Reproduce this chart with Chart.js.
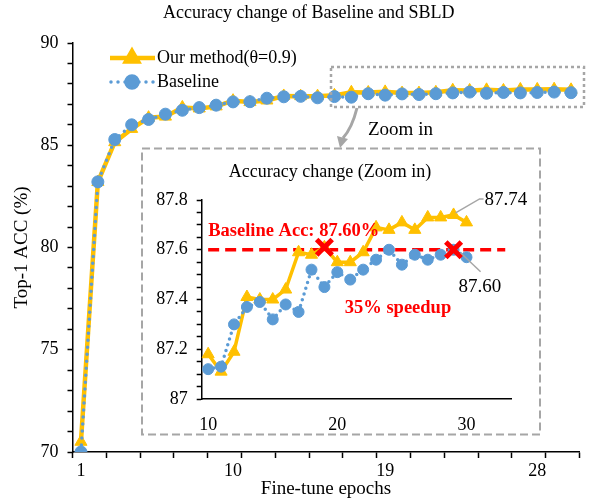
<!DOCTYPE html>
<html>
<head>
<meta charset="utf-8">
<script src="https://cdn.jsdelivr.net/npm/chart.js@4/dist/chart.umd.min.js"></script>
<style>
  body { margin: 0; background: #fff; }
  #wrap { position: relative; width: 592px; height: 500px; }
  #main { position: absolute; left: 0; top: 0; }
  #zoom { position: absolute; left: 142px; top: 148px; }
</style>
</head>
<body>
<div id="wrap">
  <canvas id="main" width="592" height="500"></canvas>
  <canvas id="zoom" width="398" height="286"></canvas>
</div>
<script>
const epochs = ['1','2','3','4','5','6','7','8','9','10','11','12','13','14','15',
                '16','17','18','19','20','21','22','23','24','25','26','27','28','29','30'];
const ours = [70.5, 83.2, 85.15, 85.8, 86.35, 86.4, 86.85, 86.8, 86.9,
              87.18, 87.11, 87.19, 87.41, 87.40, 87.40, 87.44, 87.59, 87.58, 87.61, 87.55,
              87.55, 87.59, 87.69, 87.68, 87.71, 87.68, 87.73, 87.73, 87.74, 87.71];
const baseline = [70.0, 83.21, 85.28, 86.0, 86.26, 86.52, 86.71, 86.84, 86.96,
                  87.12, 87.13, 87.30, 87.37, 87.39, 87.32, 87.38, 87.35, 87.52, 87.45, 87.51,
                  87.48, 87.52, 87.56, 87.60, 87.54, 87.58, 87.56, 87.58, 87.60, 87.57];
// zoomed view
const zoomEpochs = ['10','11','12','13','14','15','16','17','18','19','20','21',
                    '22','23','24','25','26','27','28','29','30','31','32','33'];
const baselineAcc = 87.60;
const crossEpochs = ['19', '29'];
const crossValues = [87.61, 87.60];

const FONT = "'Liberation Serif', 'Times New Roman', serif";
const GOLD = '#FFC000';
const BLUE = '#5B9BD5';
const GRAY = '#A6A6A6';

// main chart decorations: title, legend, zoom box, arrow, inset frame
const mainDeco = {
  id: 'mainDeco',
  afterDraw(chart) {
    const ctx = chart.ctx;
    ctx.save();
    ctx.fillStyle = '#000';
    ctx.font = '18px ' + FONT;
    ctx.textBaseline = 'middle';
    ctx.textAlign = 'left';
    ctx.fillText('Accuracy change of Baseline and SBLD', 163, 13);

    // legend
    ctx.strokeStyle = GOLD;
    ctx.lineWidth = 4.5;
    ctx.beginPath(); ctx.moveTo(110, 58); ctx.lineTo(155, 58); ctx.stroke();
    ctx.fillStyle = GOLD;
    Chart.helpers.drawPoint(ctx, {pointStyle: 'triangle', radius: 7, rotation: 0, borderWidth: 1}, 132, 58);
    ctx.strokeStyle = BLUE;
    ctx.lineWidth = 3.5;
    ctx.lineCap = 'round';
    ctx.setLineDash([0, 7]);
    ctx.beginPath(); ctx.moveTo(111, 82); ctx.lineTo(155, 82); ctx.stroke();
    ctx.setLineDash([]);
    ctx.fillStyle = BLUE;
    ctx.strokeStyle = BLUE;
    Chart.helpers.drawPoint(ctx, {pointStyle: 'circle', radius: 6, rotation: 0, borderWidth: 1}, 132, 82);
    ctx.fillStyle = '#000';
    ctx.fillText('Our method(θ=0.9)', 157, 58);
    ctx.fillText('Baseline', 157, 82);

    // zoom box
    ctx.strokeStyle = GRAY;
    ctx.lineWidth = 2.5;
    ctx.lineCap = 'butt';
    ctx.setLineDash([3, 3]);
    ctx.strokeRect(331, 67, 253, 40);

    // inset frame
    ctx.lineWidth = 2;
    ctx.setLineDash([8, 4]);
    ctx.strokeRect(142, 148.5, 398, 286);
    ctx.setLineDash([]);

    // arrow
    ctx.lineWidth = 3;
    ctx.beginPath();
    ctx.moveTo(357, 108);
    ctx.quadraticCurveTo(352, 128, 343, 138);
    ctx.stroke();
    ctx.fillStyle = GRAY;
    ctx.beginPath();
    ctx.moveTo(337, 136); ctx.lineTo(348, 139); ctx.lineTo(340, 148);
    ctx.closePath(); ctx.fill();

    ctx.fillStyle = '#000';
    ctx.font = '19px ' + FONT;
    ctx.fillText('Zoom in', 368, 130);
    ctx.restore();
  }
};

new Chart(document.getElementById('main').getContext('2d'), {
  type: 'line',
  data: {
    labels: epochs,
    datasets: [
      {
        label: 'Our method(θ=0.9)',
        data: ours,
        borderColor: GOLD,
        backgroundColor: GOLD,
        borderWidth: 4.5,
        pointStyle: 'triangle',
        pointRadius: 7,
        pointBorderWidth: 1,
        tension: 0,
        order: 1
      },
      {
        label: 'Baseline',
        data: baseline,
        borderColor: BLUE,
        backgroundColor: BLUE,
        borderWidth: 3.5,
        borderDash: [0, 7],
        borderCapStyle: 'round',
        pointStyle: 'circle',
        pointRadius: 6,
        pointBorderWidth: 1,
        tension: 0,
        order: 0
      }
    ]
  },
  options: {
    responsive: false,
    animation: false,
    layout: { padding: { top: 43, right: 12.5, left: 0, bottom: 0 } },
    plugins: { legend: { display: false }, title: { display: false }, tooltip: { enabled: false } },
    scales: {
      x: {
        offset: true,
        grid: {
          offset: true, drawOnChartArea: false, tickLength: 6, tickWidth: 1.5,
          tickColor: c => (c.index === undefined || c.index % 2 === 0) ? '#000' : 'rgba(0,0,0,0)'
        },
        border: { color: '#000', width: 1.5 },
        ticks: {
          autoSkip: false, maxRotation: 0, padding: 2, color: '#000',
          font: { family: FONT, size: 18 },
          callback: (v, i) => i % 9 === 0 ? epochs[i] : ''
        },
        title: { display: true, text: 'Fine-tune epochs', color: '#000',
                 font: { family: FONT, size: 19 }, padding: { top: 0, bottom: 0 } },
        afterFit: s => { s.height = 48; }
      },
      y: {
        min: 70, max: 90,
        grid: { drawOnChartArea: false, tickLength: 5, tickWidth: 1.5, tickColor: '#000' },
        border: { color: '#000', width: 1.5 },
        ticks: {
          stepSize: 1, autoSkip: false, padding: 9, color: '#000',
          font: { family: FONT, size: 18 },
          callback: v => v % 5 === 0 ? v : ''
        },
        title: { display: true, text: 'Top-1 ACC (%)', color: '#000',
                 font: { family: FONT, size: 19 }, padding: { top: 11, bottom: 0 } },
        afterFit: s => { s.width = 72.5; }
      }
    }
  },
  plugins: [mainDeco]
});

// zoomed chart annotations
const zoomDeco = {
  id: 'zoomDeco',
  afterDraw(chart) {
    const ctx = chart.ctx;
    const xs = chart.scales.x, ys = chart.scales.y;
    ctx.save();
    ctx.fillStyle = '#000';
    ctx.font = '18px ' + FONT;
    ctx.textBaseline = 'middle';
    ctx.textAlign = 'center';
    ctx.fillText('Accuracy change (Zoom in)', 188, 24);

    const i29 = zoomEpochs.indexOf('29');
    const px = xs.getPixelForValue(i29);
    const pTop = ys.getPixelForValue(87.74);
    const pCross = ys.getPixelForValue(87.60);
    ctx.strokeStyle = GRAY;
    ctx.lineWidth = 1.5;
    ctx.beginPath(); ctx.moveTo(px + 2, pTop - 2); ctx.lineTo(px + 26, pTop - 16); ctx.lineTo(px + 30, pTop - 16); ctx.stroke();
    ctx.beginPath(); ctx.moveTo(px + 7, pCross + 3); ctx.lineTo(px + 27, pCross + 22); ctx.stroke();
    ctx.textAlign = 'left';
    ctx.font = '19px ' + FONT;
    ctx.fillText('87.74', px + 31, pTop - 15);
    ctx.fillText('87.60', px + 5, pCross + 37);

    ctx.fillStyle = '#FF0000';
    ctx.font = 'bold 18.5px ' + FONT;
    ctx.fillText('Baseline Acc: 87.60%', xs.getPixelForValue(0), pCross - 19);
    ctx.textAlign = 'center';
    ctx.fillText('35% speedup', 256, 160);
    ctx.restore();
  }
};

const zoomOurs = ours.slice(epochs.indexOf('10'));
const zoomBase = baseline.slice(epochs.indexOf('10'));
const crossData = zoomEpochs.map(e => {
  const k = crossEpochs.indexOf(e);
  return k < 0 ? null : crossValues[k];
});

new Chart(document.getElementById('zoom').getContext('2d'), {
  type: 'line',
  data: {
    labels: zoomEpochs,
    datasets: [
      {
        label: 'Baseline Acc',
        data: [{x: zoomEpochs[0], y: baselineAcc}, {x: zoomEpochs[zoomEpochs.length - 1], y: baselineAcc}],
        borderColor: '#FF0000',
        borderWidth: 3.5,
        borderDash: [11, 6],
        pointRadius: 0,
        order: 3
      },
      {
        label: 'Our method(θ=0.9)',
        data: zoomOurs,
        borderColor: GOLD,
        backgroundColor: GOLD,
        borderWidth: 3.5,
        pointStyle: 'triangle',
        pointRadius: 7,
        pointBorderWidth: 1,
        order: 2
      },
      {
        label: 'Baseline',
        data: zoomBase,
        borderColor: BLUE,
        backgroundColor: BLUE,
        borderWidth: 3.5,
        borderDash: [0, 6],
        borderCapStyle: 'round',
        pointStyle: 'circle',
        pointRadius: 5.5,
        pointBorderWidth: 1,
        order: 1
      },
      {
        label: 'cross',
        data: crossData,
        showLine: false,
        borderColor: '#FF0000',
        backgroundColor: '#FF0000',
        pointStyle: 'crossRot',
        pointRadius: 11,
        pointBorderWidth: 5,
        order: 0
      }
    ]
  },
  options: {
    responsive: false,
    animation: false,
    layout: { padding: { top: 52, right: 28.3, left: 0, bottom: 0 } },
    plugins: { legend: { display: false }, title: { display: false }, tooltip: { enabled: false } },
    scales: {
      x: {
        offset: true,
        grid: { display: false },
        border: { color: '#000', width: 1.5 },
        ticks: {
          autoSkip: false, maxRotation: 0, padding: 7, color: '#000',
          font: { family: FONT, size: 18 },
          callback: (v, i) => i % 10 === 0 ? zoomEpochs[i] : ''
        },
        afterFit: s => { s.height = 35; }
      },
      y: {
        min: 87, max: 87.8,
        grid: { drawOnChartArea: false, tickLength: 5, tickWidth: 1.5, tickColor: '#000' },
        border: { color: '#000', width: 1.5 },
        ticks: {
          stepSize: 0.05, autoSkip: false, padding: 9, color: '#000',
          font: { family: FONT, size: 18 },
          callback: v => Math.round(v * 100) % 20 === 0 ? String(Math.round(v * 10) / 10) : ''
        },
        afterFit: s => { s.width = 59.7; }
      }
    }
  },
  plugins: [zoomDeco]
});
</script>
</body>
</html>
